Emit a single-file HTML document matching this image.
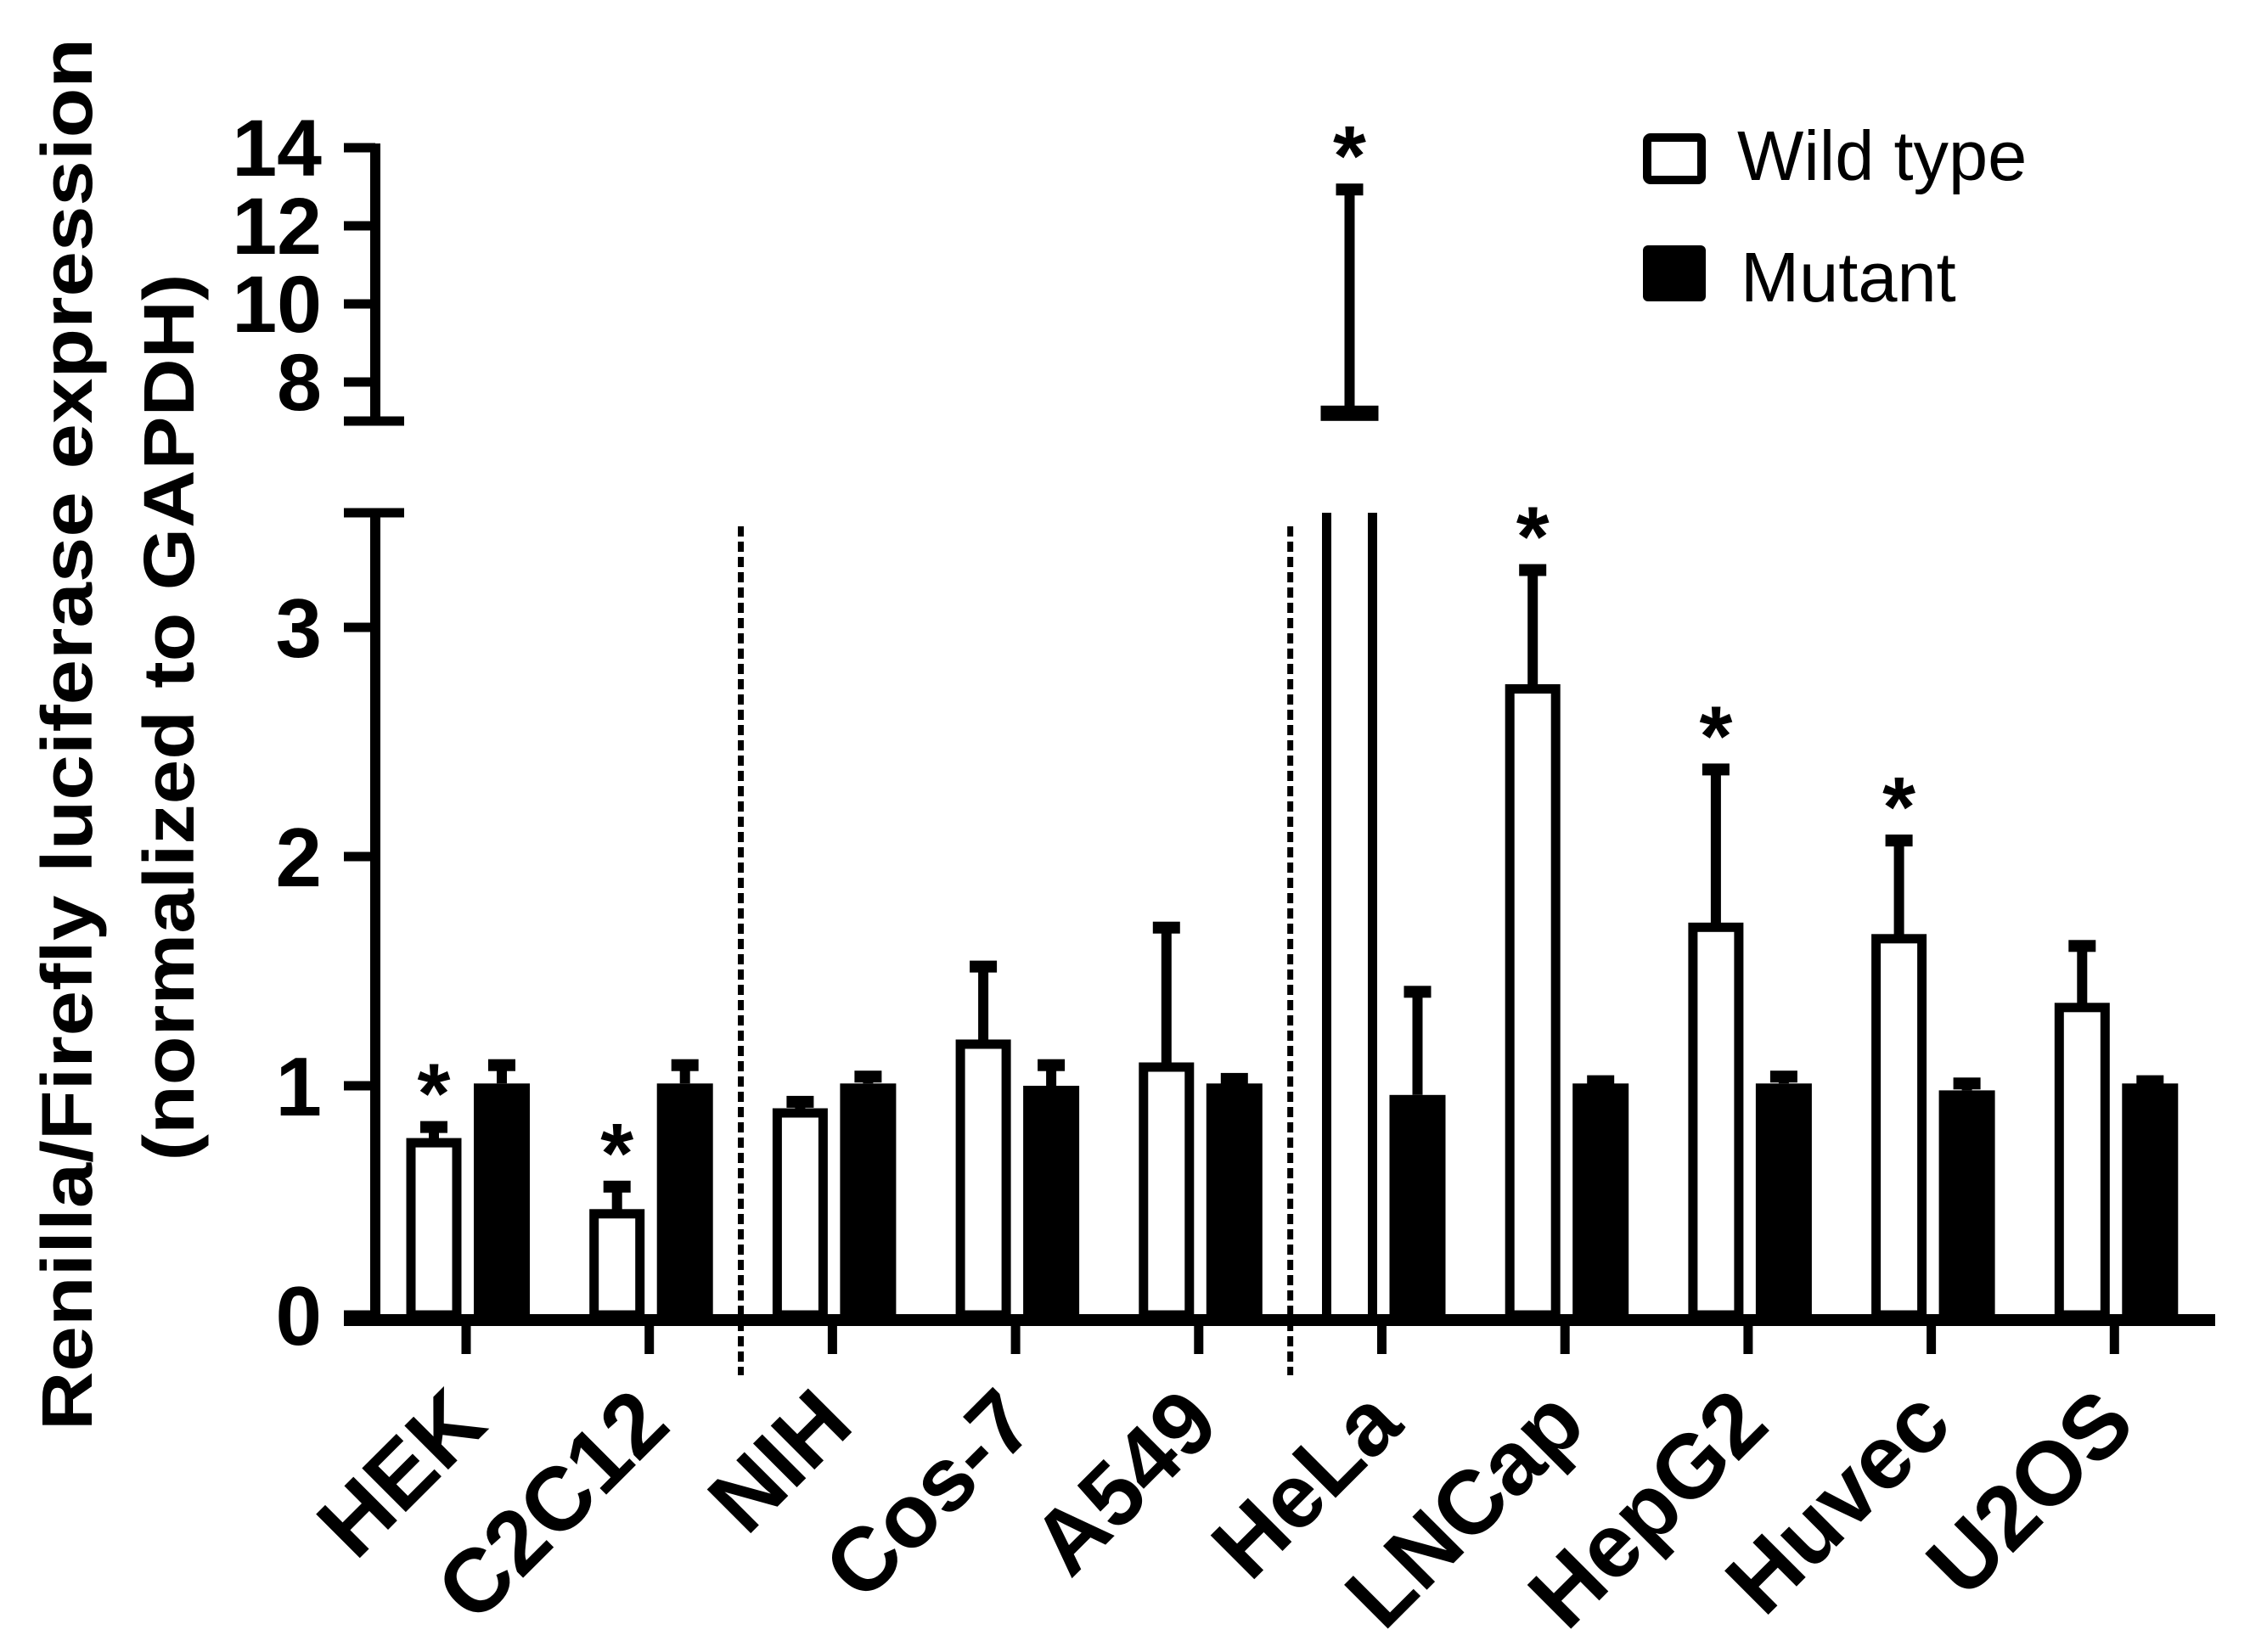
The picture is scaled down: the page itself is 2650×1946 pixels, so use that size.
<!DOCTYPE html>
<html><head><meta charset="utf-8"><style>
html,body{margin:0;padding:0;background:#fff;}
svg{display:block;font-family:"Liberation Sans",Arial,sans-serif;}
</style></head><body>
<svg id="chart" width="2650" height="1946" viewBox="0 0 2650 1946">
<g id="axes"></g><g id="bars"></g>
<g>
  <rect x="1940" y="162" width="64" height="50" rx="4" fill="#fff" stroke="#000" stroke-width="10"/>
  <text x="2046" y="212" font-size="83">Wild type</text>
  <rect x="1935" y="289" width="74" height="66" rx="6" fill="#000"/>
  <text x="2050" y="355" font-size="83">Mutant</text>
</g>
<g font-weight="bold" font-size="84">
  <text transform="translate(108,865) rotate(-90)" text-anchor="middle" textLength="1640" lengthAdjust="spacingAndGlyphs">Renilla/Firefly  luciferase expression</text>
  <text transform="translate(228,845) rotate(-90)" text-anchor="middle" textLength="1045" lengthAdjust="spacingAndGlyphs">(normalized to GAPDH)</text>
</g>
</svg>
<script>
const categories=["HEK","C2C12","NIH","Cos-7","A549","HeLa","LNCap","HepG2","Huvec","U2OS"];
const wtValues=[0.77,0.46,0.90,1.20,1.10,7.2,2.75,1.71,1.66,1.36];
const wtErrTop=[0.82,0.56,0.93,1.52,1.69,12.93,3.25,2.38,2.07,1.61];
const mutValues=[1.01,1.01,1.01,1.00,1.01,0.96,1.01,1.01,0.98,1.01];
const mutErrTop=[1.09,1.09,1.04,1.09,1.03,1.41,1.02,1.04,1.01,1.02];
const wtSignificant=[true,true,false,false,false,true,true,true,true,false];
const lowerTicks=[0,1,2,3];
const upperTicks=[8,10,12,14];
const dividerAfter=[1,4];

const NS="http://www.w3.org/2000/svg";
const axes=document.getElementById('axes'), bars=document.getElementById('bars');
function mk(tag,attrs,parent){const e=document.createElementNS(NS,tag);for(const k in attrs)e.setAttribute(k,attrs[k]);parent.appendChild(e);return e;}
const Y0=1549, PXU=270, BREAK_LO=3.5, UP_BASE=496, UP_MIN=7.0, UP_PX=46;
function y(v){ return v<=BREAK_LO ? Y0 - v*PXU : UP_BASE - (v-UP_MIN)*UP_PX; }
const AX=442, T0=549, STEP=215.7;
function xc(i){ return T0 + i*STEP; }

let e;
e=mk('line',{x1:AX,y1:y(0)+7,x2:AX,y2:y(3.5),stroke:'#000','stroke-width':12},axes);

e=mk('line',{x1:405,y1:y(3.5),x2:476,y2:y(3.5),stroke:'#000','stroke-width':11},axes);

lowerTicks.forEach(v=>{
  const t=mk('line',{x1:405,y1:y(v),x2:AX,y2:y(v),stroke:'#000','stroke-width':11},axes);
  
  const l=mk('text',{x:379,y:y(v)+35,'text-anchor':'end','font-size':98,'font-weight':'bold'},axes);
  l.textContent=v;
  
});
e=mk('line',{x1:AX,y1:y(7.0),x2:AX,y2:y(14)-5,stroke:'#000','stroke-width':12},axes);

e=mk('line',{x1:405,y1:y(7.0),x2:476,y2:y(7.0),stroke:'#000','stroke-width':11},axes);

upperTicks.forEach(v=>{
  const t=mk('line',{x1:405,y1:y(v),x2:AX,y2:y(v),stroke:'#000','stroke-width':11},axes);
  
  const l=mk('text',{x:379,y:y(v)+33,'text-anchor':'end','font-size':95,'font-weight':'bold'},axes);
  l.textContent=v;
  
});
e=mk('line',{x1:405,y1:Y0+6,x2:2609,y2:Y0+6,stroke:'#000','stroke-width':14},axes);

categories.forEach((c,i)=>{
  const t=mk('line',{x1:xc(i),y1:Y0,x2:xc(i),y2:1595,stroke:'#000','stroke-width':11},axes);
  
  const l=mk('text',{transform:`translate(${xc(i)+28},1682) rotate(-45)`,'text-anchor':'end','font-size':106,'font-weight':'bold'},axes);
  l.textContent=c;
  
});
dividerAfter.forEach(i=>{
  const x=(xc(i)+xc(i+1))/2;
  const d=mk('line',{x1:x,y1:620,x2:x,y2:1620,stroke:'#000','stroke-width':7,'stroke-dasharray':'12 6'},axes);
  
});

function errBar(x,yTop,yCap){
  const l=mk('line',{x1:x,y1:yTop,x2:x,y2:yCap,stroke:'#000','stroke-width':12},bars);
  
  const c=mk('rect',{x:x-16,y:yCap-7,width:32,height:14,fill:'#000'},bars);
  
}
categories.forEach((c,i)=>{
  const t=xc(i);
  const wl=t-70, ww=64, wcx=wl+ww/2;
  const v=wtValues[i];
  if(v>BREAK_LO){
    [wl+5,wl+ww-5].forEach(x=>{
      const s=mk('line',{x1:x,y1:Y0,x2:x,y2:y(BREAK_LO),stroke:'#000','stroke-width':11},bars);
      
    });
    errBar(wcx,y(v),y(wtErrTop[i]));
    const top=mk('rect',{x:wl-2,y:y(v)-9,width:ww+4,height:18,fill:'#000'},bars);
    
  } else {
    errBar(wcx,y(v),y(wtErrTop[i]));
    const r=mk('rect',{x:wl+5,y:y(v)+5,width:ww-10,height:Y0-y(v)-5,fill:'#fff',stroke:'#000','stroke-width':11},bars);
    
  }
  if(wtSignificant[i]){
    const s=mk('text',{x:wcx,y:y(wtErrTop[i])-60+55,'text-anchor':'middle','font-size':100,'font-weight':'bold'},bars);
    s.textContent='*';
    
  }
  const ml=t+9, mw=66;
  errBar(ml+mw/2,y(mutValues[i]),y(mutErrTop[i]));
  const m=mk('rect',{x:ml,y:y(mutValues[i]),width:mw,height:Y0-y(mutValues[i]),fill:'#000'},bars);
  
});
</script>
</body></html>
